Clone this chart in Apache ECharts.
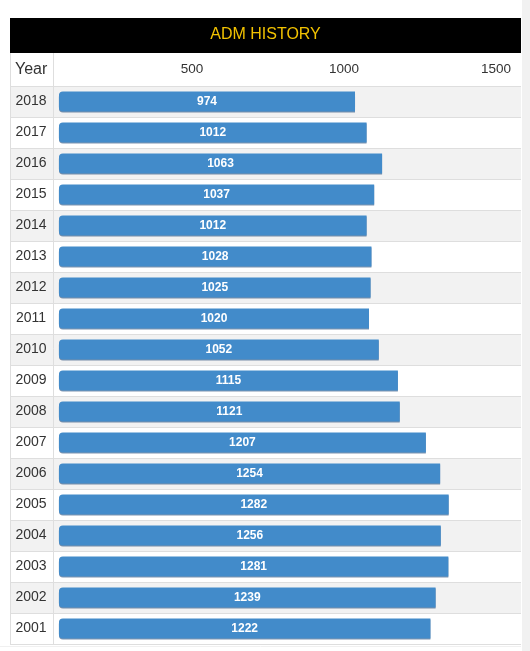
<!DOCTYPE html>
<html>
<head>
<meta charset="utf-8">
<script src="https://cdn.jsdelivr.net/npm/echarts@6/dist/echarts.min.js"></script>
<style>
  html, body { margin: 0; padding: 0; background: #fff; }
  #chart { width: 530px; height: 651px; }
</style>
</head>
<body>
<div id="chart"></div>
<script>
// data
const years = ['2018', '2017', '2016', '2015', '2014', '2013', '2012', '2011', '2010',
  '2009', '2008', '2007', '2006', '2005', '2004', '2003', '2002', '2001'];
const adm = [974, 1012, 1063, 1037, 1012, 1028, 1025, 1020, 1052,
  1115, 1121, 1207, 1254, 1282, 1256, 1281, 1239, 1222];
const tickValues = [500, 1000, 1500];

const chart = echarts.init(document.getElementById('chart'));

const lineColor = '#dedede';

const option = {
  animation: false,
  textStyle: { fontFamily: 'Liberation Sans, Arial, sans-serif' },
  graphic: [
    // title band
    { type: 'rect', shape: { x: 10, y: 18, width: 511, height: 35 }, style: { fill: '#000' }, z: 0 },
    {
      type: 'text', x: 265.5, y: 34.5,
      style: { text: 'ADM HISTORY', fill: '#f2c200', fontSize: 16, align: 'center', verticalAlign: 'middle',
        fontFamily: 'Liberation Sans, Arial, sans-serif' },
      z: 1
    },
    // header cell
    {
      type: 'text', x: 15, y: 69.5,
      style: { text: 'Year', fill: '#333', fontSize: 16, align: 'left', verticalAlign: 'middle',
        fontFamily: 'Liberation Sans, Arial, sans-serif' },
      z: 1
    },
    // table borders
    { type: 'line', shape: { x1: 10.5, y1: 53, x2: 10.5, y2: 644 }, style: { stroke: lineColor, lineWidth: 1 }, z: 5 },
    { type: 'line', shape: { x1: 53.5, y1: 53, x2: 53.5, y2: 644 }, style: { stroke: lineColor, lineWidth: 1 }, z: 5 },
    { type: 'line', shape: { x1: 0, y1: 646.5, x2: 521, y2: 646.5 }, style: { stroke: '#f0f0f0', lineWidth: 1 }, z: 5 },
    // scrollbar strip
    { type: 'rect', shape: { x: 522, y: 0, width: 8, height: 651 }, style: { fill: '#f1f1f1' }, z: 5 }
  ],
  grid: { left: 10, top: 86, width: 511, height: 558 },
  xAxis: {
    type: 'value',
    position: 'top',
    min: -161,
    max: 1520,
    axisLine: { show: false },
    axisTick: { show: false },
    splitLine: { show: false },
    axisLabel: {
      customValues: tickValues,
      formatter: function (v) { return String(v); },
      color: '#333',
      fontSize: 13.5,
      margin: 17,
      verticalAlign: 'middle',
      align: 'center',
      padding: [0, 38, 0, 0]
    }
  },
  yAxis: {
    type: 'category',
    data: years,
    inverse: true,
    axisLine: { show: false },
    axisTick: { show: false },
    axisLabel: {
      inside: true,
      margin: 21,
      align: 'center',
      color: '#333',
      fontSize: 14
    },
    splitLine: { show: true, lineStyle: { color: lineColor, width: 1 } },
    splitArea: { show: true, areaStyle: { color: ['#f2f2f2', '#ffffff'] } }
  },
  series: [{
    name: 'ADM',
    type: 'bar',
    data: adm,
    barWidth: 20,
    itemStyle: {
      color: '#428bca',
      borderRadius: [4, 0, 0, 4],
      shadowColor: 'rgba(20,60,110,0.55)',
      shadowOffsetY: 1,
      shadowBlur: 0
    },
    label: {
      show: true,
      position: 'inside',
      color: '#fff',
      fontWeight: 'bold',
      fontSize: 12
    }
  }]
};

chart.setOption(option);
</script>
</body>
</html>
